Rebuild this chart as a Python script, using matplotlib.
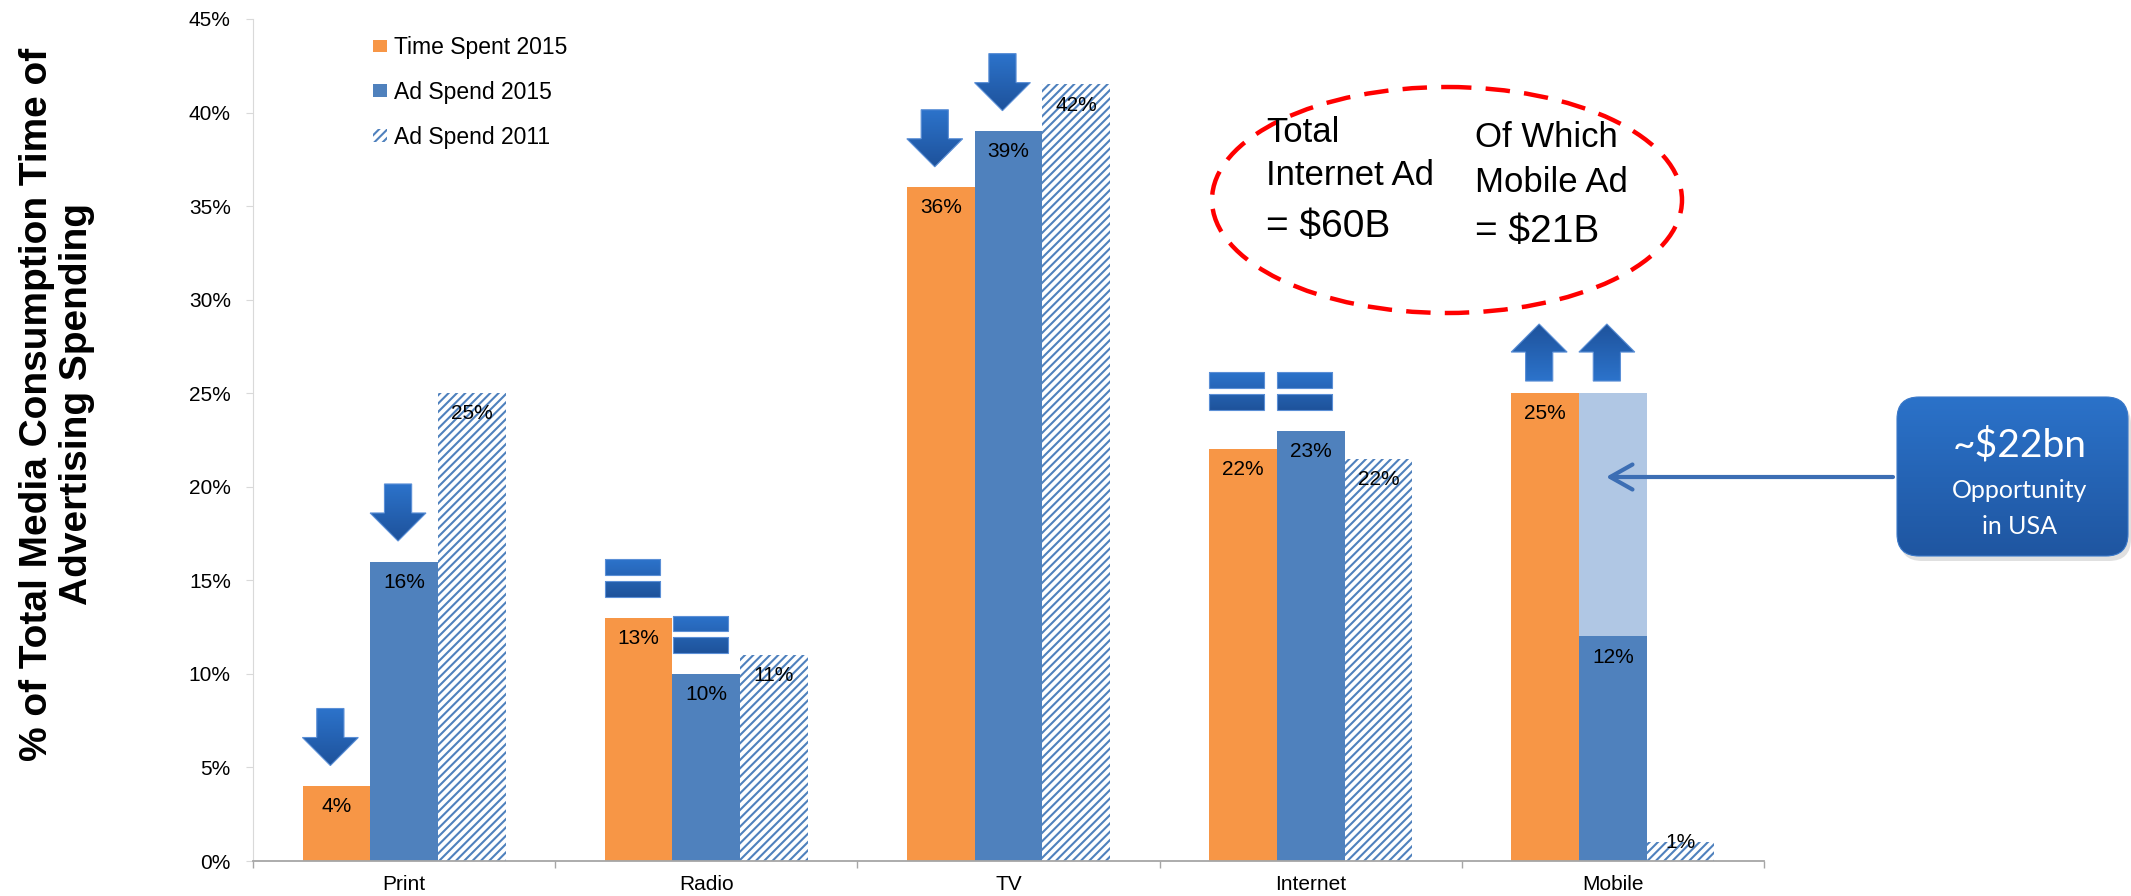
import numpy as np
import matplotlib
matplotlib.use('Agg')
import matplotlib.pyplot as plt
from matplotlib.patches import Polygon, Rectangle, Ellipse, FancyBboxPatch
from matplotlib.colors import LinearSegmentedColormap

plt.rcParams['font.family'] = ['Liberation Sans', 'DejaVu Sans']
plt.rcParams['hatch.linewidth'] = 1.5

categories = ['Print', 'Radio', 'TV', 'Internet', 'Mobile']
time_spent_2015 = [4, 13, 36, 22, 25]
ad_spend_2015 = [16, 10, 39, 23, 12]
ad_spend_2011 = [25, 11, 41.5, 21.5, 1]
mobile_potential = 25   # mobile ad spend if it matched time spent
series_names = ['Time Spent 2015', 'Ad Spend 2015', 'Ad Spend 2011']

# trend marks over the 2015 bars: (category, series, shape)
trend_marks = [(0, 0, 'down'), (0, 1, 'down'),
               (1, 0, 'equal'), (1, 1, 'equal'),
               (2, 0, 'down'), (2, 1, 'down'),
               (3, 0, 'equal'), (3, 1, 'equal'),
               (4, 0, 'up'), (4, 1, 'up')]

ORANGE = '#F79646'
BLUE = '#4F81BD'
LIGHT = '#B0C7E4'
MARK_LIGHT = '#2C73CB'
MARK_DARK = '#1E529B'

W_PX, H_PX = 2131, 896
fig = plt.figure(figsize=(W_PX / 100, H_PX / 100), dpi=100)
ax = fig.add_axes([253 / W_PX, 1 - 861 / H_PX, (1764 - 253) / W_PX, (861 - 19) / H_PX])


def gradient_patch(axis, patch, x0, x1, y_from, y_to, c_from, c_to, z=5):
    patch.set_facecolor('none')
    patch.set_zorder(z + 0.1)
    axis.add_patch(patch)
    cmap = LinearSegmentedColormap.from_list('g', [c_from, c_to])
    im = axis.imshow(np.linspace(0, 1, 100).reshape(-1, 1), cmap=cmap,
                     extent=(x0, x1, y_from, y_to), origin='lower',
                     aspect='auto', interpolation='bilinear', zorder=z)
    im.set_clip_path(patch)


x = np.arange(len(categories))
w = 0.224
b1 = ax.bar(x - w, time_spent_2015, w, color=ORANGE, label=series_names[0], zorder=2)
b2 = ax.bar(x, ad_spend_2015, w, color=BLUE, label=series_names[1], zorder=2)
b3 = ax.bar(x + w, ad_spend_2011, w, color='white', edgecolor=BLUE, hatch='////',
            linewidth=0, label=series_names[2], zorder=2)
# untapped mobile spend stacked on the 2015 bar
ax.bar(x[-1], mobile_potential - ad_spend_2015[-1], w, bottom=ad_spend_2015[-1],
       color=LIGHT, zorder=2)

# value labels just inside the bar tops
for offs, vals in [(-w, time_spent_2015), (0, ad_spend_2015), (w, ad_spend_2011)]:
    for xi, v in zip(x, vals):
        y = v - 1.1 if v > 3 else v
        ax.text(xi + offs, y, '{:.0f}%'.format(v), ha='center', va='center',
                fontsize=15, color='black', zorder=6)

# trend marks
tops = {}
for c, s, kind in trend_marks:
    vals = time_spent_2015 if s == 0 else ad_spend_2015
    tops[(c, s)] = vals[c]
tops[(4, 1)] = mobile_potential
tops[(3, 0)] = tops[(3, 1)]  # internet marks share one line

for c, s, kind in trend_marks:
    xc = x[c] + (s - 1) * w - 0.02
    base = tops[(c, s)]
    hw, sw, h, hl = 0.0925, 0.045, 3.05, 1.5
    if kind == 'down':
        tip = base + 1.1
        top = tip + h
        neck = tip + hl
        verts = [(xc - sw, top), (xc + sw, top), (xc + sw, neck), (xc + hw, neck),
                 (xc, tip), (xc - hw, neck), (xc - sw, neck)]
        gradient_patch(ax, Polygon(verts, closed=True, edgecolor='#5B8FD6', lw=0.8),
                       xc - hw, xc + hw, tip, top, MARK_DARK, MARK_LIGHT)
    elif kind == 'up':
        bot = base + 0.65
        tip = bot + h
        neck = tip - hl
        verts = [(xc - sw, bot), (xc + sw, bot), (xc + sw, neck), (xc + hw, neck),
                 (xc, tip), (xc - hw, neck), (xc - sw, neck)]
        gradient_patch(ax, Polygon(verts, closed=True, edgecolor='#5B8FD6', lw=0.8),
                       xc - hw, xc + hw, bot, tip, MARK_LIGHT, MARK_DARK)
    else:
        ew, bh, gap = 0.182, 0.85, 0.32
        y0 = base + 1.1
        lower = Rectangle((xc - ew / 2, y0), ew, bh, edgecolor='#5B8FD6', lw=0.8)
        gradient_patch(ax, lower, xc - ew / 2, xc + ew / 2, y0, y0 + bh, MARK_DARK, '#2461AE')
        y1 = y0 + bh + gap
        upper = Rectangle((xc - ew / 2, y1), ew, bh, edgecolor='#5B8FD6', lw=0.8)
        gradient_patch(ax, upper, xc - ew / 2, xc + ew / 2, y1, y1 + bh, '#2766B8', MARK_LIGHT)

ax.set_xlim(-0.5, len(categories) - 0.5)
ax.set_ylim(0, 45)
ax.set_yticks(np.arange(0, 46, 5))
ax.set_yticklabels(['{}%'.format(t) for t in range(0, 46, 5)], fontsize=15)
ax.set_xticks(x)
ax.set_xticklabels(categories, fontsize=15)
ax.set_xticks(np.arange(-0.5, len(categories), 1), minor=True)
ax.tick_params(axis='x', which='major', length=0, pad=10)
ax.tick_params(axis='x', which='minor', length=5, color='#A6A6A6', width=1)
ax.tick_params(axis='y', length=5, color='#D9D9D9', pad=11)
for side in ['top', 'right']:
    ax.spines[side].set_visible(False)
ax.spines['left'].set_color('#D9D9D9')
ax.spines['bottom'].set_color('#A6A6A6')
ax.spines['bottom'].set_linewidth(1.3)

ax.legend(handles=[b1, b2, b3], loc='upper left', frameon=False, fontsize=16.5,
          bbox_to_anchor=(373 / W_PX, 1 - 36 / H_PX), bbox_transform=fig.transFigure,
          borderpad=0, borderaxespad=0, handlelength=0.6, handleheight=0.45,
          handletextpad=0.3, labelspacing=0.95)

fig.text(57 / W_PX, 1 - 404 / H_PX,
         '% of Total Media Consumption Time of\nAdvertising Spending',
         rotation=90, ha='center', va='center', multialignment='center',
         fontsize=28, fontweight='bold', linespacing=1.15,
         family=['Liberation Sans Narrow', 'Liberation Sans'])

# annotation layer in pixel coordinates
ov = fig.add_axes([0, 0, 1, 1], zorder=5)
ov.patch.set_alpha(0)
ov.axis('off')

ov.add_patch(Ellipse((1447, 200), 470, 226, fill=False, edgecolor='#FF0000',
                     lw=3.2, linestyle=(0, (5.5, 3.2))))
for tx, lines in [(1266, [(142, 'Total', 25), (185, 'Internet Ad', 25), (237, '= $60B', 28)]),
                  (1475, [(147, 'Of Which', 25), (192, 'Mobile Ad', 25), (242, '= $21B', 28)])]:
    for ty, s, fs in lines:
        ov.text(tx, ty, s, fontsize=fs, ha='left', va='baseline', color='black')

# callout box
ov.add_patch(FancyBboxPatch((1900, 402), 231, 159, boxstyle='round,pad=0,rounding_size=22',
                            facecolor='black', edgecolor='none', alpha=0.12, zorder=3))
box = FancyBboxPatch((1897, 397), 231, 159, boxstyle='round,pad=0,rounding_size=22',
                     edgecolor='#3A78C8', lw=0.8)
gradient_patch(ov, box, 1897, 2128, 556, 397, '#1F56A1', '#2B72C9', z=4)
ov.text(2020, 445, '~$22bn', fontsize=28, color='white', ha='center', va='center',
        family=['Lato', 'DejaVu Sans'], zorder=6)
ov.text(2020, 491, 'Opportunity', fontsize=18, color='white', ha='center', va='center',
        family=['Lato', 'DejaVu Sans'], zorder=6)
ov.text(2020, 527, 'in USA', fontsize=18, color='white', ha='center', va='center',
        family=['Lato', 'DejaVu Sans'], zorder=6)
ov.annotate('', xy=(1606, 477), xytext=(1893, 477),
            arrowprops=dict(arrowstyle='->, head_length=0.8, head_width=0.45',
                            color='#3C6EB4', lw=3, mutation_scale=20,
                            shrinkA=0, shrinkB=0))

ov.set_xlim(0, W_PX)
ov.set_ylim(H_PX, 0)

fig.savefig('out.png', dpi=100)
